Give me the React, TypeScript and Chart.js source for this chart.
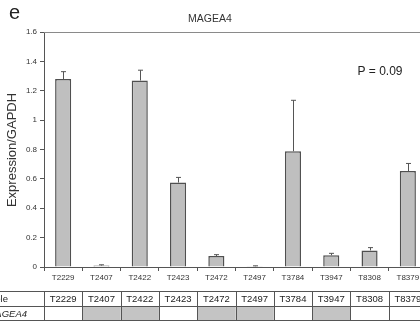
import React, { useEffect, useRef } from "react";
import { Chart, registerables } from "chart.js";

Chart.register(...registerables);

const categories = ["T2229", "T2407", "T2422", "T2423", "T2472", "T2497", "T3784", "T3947", "T8308", "T8379"];
const values = [1.28, 0.01, 1.27, 0.575, 0.075, 0.005, 0.788, 0.08, 0.113, 0.653];
const errorTops = [1.33, 0.015, 1.34, 0.61, 0.084, 0.008, 1.135, 0.093, 0.132, 0.705];
const shadedInRow2 = [false, true, true, false, true, true, false, true, false, false];
const yTicks = [0, 0.2, 0.4, 0.6, 0.8, 1, 1.2, 1.4, 1.6];
const chartTitle = "MAGEA4";
const panelLetter = "e";
const pValueText = "P = 0.09";
const yAxisTitle = "Expression/GAPDH";
const tableRowLabels = ["Sample", "MAGEA4"];

const FONT = "'Liberation Sans', Arial, sans-serif";

const overlayPlugin = {
  id: "overlay",
  afterDatasetsDraw(chart: any) {
    const { ctx } = chart;
    const xs = chart.scales.x;
    const ys = chart.scales.y;
    ctx.save();
    ctx.strokeStyle = "#555";
    ctx.lineWidth = 1;
    errorTops.forEach((top, i) => {
      const x = Math.round(xs.getPixelForValue(i)) + 0.5;
      const y0 = ys.getPixelForValue(values[i]);
      const y1 = ys.getPixelForValue(top);
      ctx.beginPath();
      ctx.moveTo(x, y0);
      ctx.lineTo(x, y1);
      ctx.moveTo(x - 2.5, y1);
      ctx.lineTo(x + 2.5, y1);
      ctx.stroke();
    });
    ctx.restore();
  },
  afterDraw(chart: any) {
    const { ctx, chartArea } = chart;
    const xs = chart.scales.x;
    ctx.save();
    // top border of plot
    ctx.strokeStyle = "#8a8a8a";
    ctx.lineWidth = 1;
    ctx.beginPath();
    ctx.moveTo(chartArea.left, chartArea.top + 0.5);
    ctx.lineTo(chartArea.right, chartArea.top + 0.5);
    ctx.stroke();

    // texts
    ctx.fillStyle = "#222";
    ctx.textBaseline = "middle";
    ctx.textAlign = "left";
    ctx.font = `20px ${FONT}`;
    ctx.fillText(panelLetter, 9, 13);
    ctx.textAlign = "center";
    ctx.fillStyle = "#333";
    ctx.font = `10.5px ${FONT}`;
    ctx.fillText(chartTitle, 210, 19);
    ctx.fillStyle = "#222";
    ctx.font = `12px ${FONT}`;
    ctx.fillText(pValueText, 380, 72);

    ctx.save();
    ctx.translate(12, 150);
    ctx.rotate(-Math.PI / 2);
    ctx.fillStyle = "#333";
    ctx.font = `13px ${FONT}`;
    ctx.fillText(yAxisTitle, 0, 0);
    ctx.restore();

    // table
    const top = 291.5, mid = 306.5, bot = 320.5;
    const step = xs.getPixelForValue(1) - xs.getPixelForValue(0);
    ctx.fillStyle = "#c4c4c4";
    categories.forEach((c, i) => {
      if (shadedInRow2[i]) {
        const l = xs.getPixelForValue(i) - step / 2;
        ctx.fillRect(l, mid, step, bot - mid);
      }
    });
    ctx.strokeStyle = "#555";
    ctx.beginPath();
    [top, mid, bot].forEach((y) => {
      ctx.moveTo(0, y);
      ctx.lineTo(chart.width, y);
    });
    for (let i = 0; i <= categories.length; i++) {
      const x = Math.round(xs.getPixelForValue(i) - step / 2) + 0.5;
      ctx.moveTo(x, top);
      ctx.lineTo(x, bot);
    }
    ctx.stroke();
    ctx.fillStyle = "#222";
    ctx.font = `9.5px ${FONT}`;
    ctx.textAlign = "center";
    categories.forEach((c, i) => {
      ctx.fillText(c, xs.getPixelForValue(i), (top + mid) / 2 + 0.5);
    });
    ctx.textAlign = "right";
    ctx.fillText(tableRowLabels[0], 8, (top + mid) / 2 + 0.5);
    ctx.font = `italic 9.5px ${FONT}`;
    ctx.fillText(tableRowLabels[1], 27, (mid + bot) / 2 + 0.5);
    ctx.restore();
  },
};

export default function App() {
  const ref = useRef<HTMLCanvasElement>(null);
  useEffect(() => {
    const chart = new Chart(ref.current as HTMLCanvasElement, {
      type: "bar",
      data: {
        labels: categories,
        datasets: [
          {
            data: values,
            backgroundColor: "#bfbfbf",
            borderColor: "#505050",
            borderWidth: 1.5,
            categoryPercentage: 1,
            barPercentage: 0.42,
          },
        ],
      },
      options: {
        animation: false,
        responsive: false,
        devicePixelRatio: 1,
        layout: { padding: { top: 32, right: 3, left: 0, bottom: 0 } },
        plugins: { legend: { display: false }, tooltip: { enabled: false }, title: { display: false } },
        scales: {
          x: {
            offset: true,
            grid: { offset: true, drawOnChartArea: false, drawTicks: true, tickLength: 4, color: "#555" },
            border: { color: "#555", width: 1 },
            ticks: { font: { family: FONT, size: 8 }, color: "#333", maxRotation: 0, autoSkip: false, padding: 2 },
            afterFit: (s: any) => { s.height = 57; },
          },
          y: {
            min: 0,
            max: 1.6,
            afterBuildTicks: (s: any) => { s.ticks = yTicks.map((v) => ({ value: v })); },
            grid: { drawOnChartArea: false, drawTicks: true, tickLength: 4, color: "#555" },
            border: { color: "#555", width: 1 },
            ticks: { font: { family: FONT, size: 8 }, color: "#333", padding: 3, callback: (v: any) => String(v) },
            afterFit: (s: any) => { s.width = 44; },
          },
        },
      },
      plugins: [overlayPlugin],
    } as any);
    return () => chart.destroy();
  }, []);
  return (
    <div style={{ position: "fixed", left: 0, top: 0, width: 420, height: 324, overflow: "hidden", background: "#fff" }}>
      <canvas ref={ref} width={430} height={324} style={{ display: "block" }} />
    </div>
  );
}
